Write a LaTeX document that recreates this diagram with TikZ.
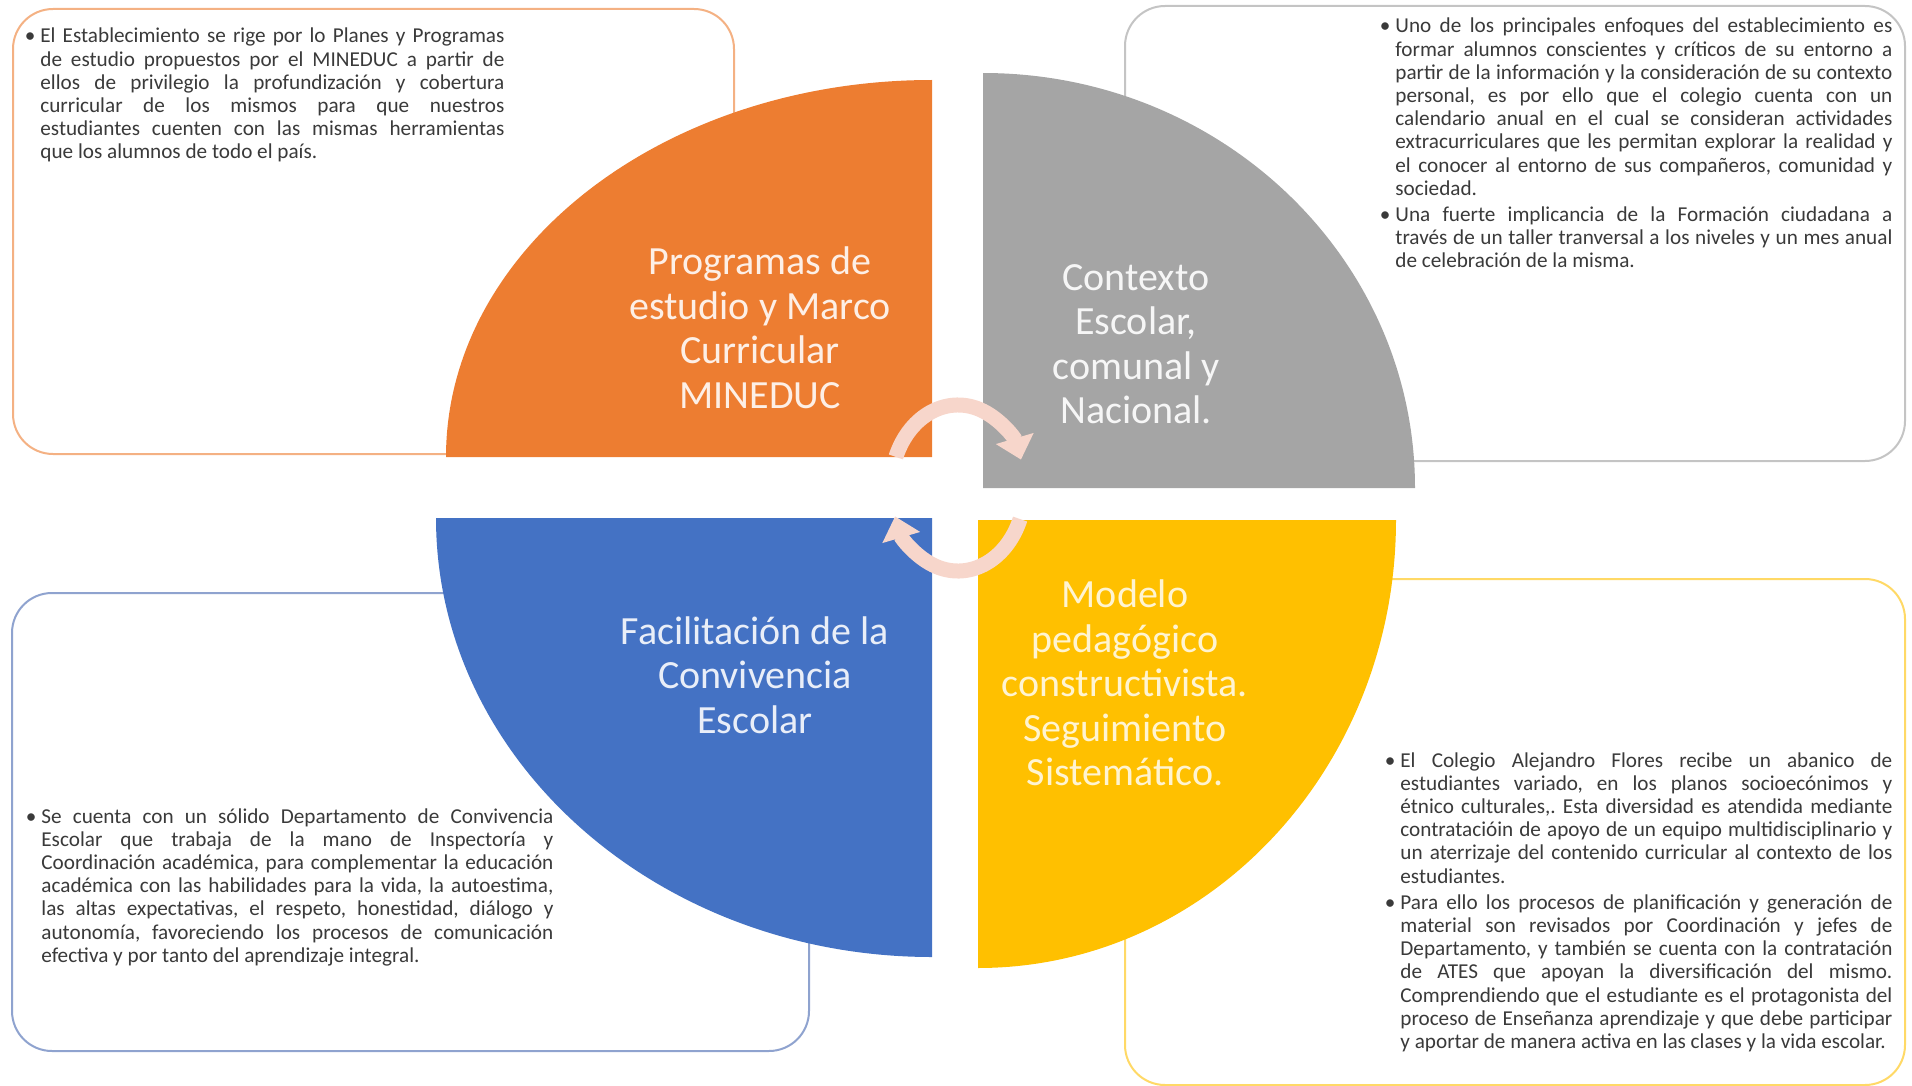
\documentclass[tikz,border=0pt]{standalone}
\usepackage{fontspec}
\setmainfont{Carlito}
\usetikzlibrary{positioning,arrows.meta}
\definecolor{progorange}{HTML}{ED7D31}
\definecolor{ctxgray}{HTML}{A5A5A5}
\definecolor{convblue}{HTML}{4472C4}
\definecolor{modelyellow}{HTML}{FFC000}
\definecolor{progline}{HTML}{F4B183}
\definecolor{ctxline}{HTML}{C4C4C4}
\definecolor{convline}{HTML}{8FA3CF}
\definecolor{modelline}{HTML}{FFD966}
\definecolor{bodygray}{HTML}{3A3A3A}
\definecolor{cyclepink}{HTML}{F7D6CB}
\newcommand{\bodyfont}{\fontsize{10.6}{11.6}\selectfont\frenchspacing\hyphenpenalty=10000\exhyphenpenalty=10000\tolerance=10000}
\newcommand{\labelfont}{\fontsize{20}{22.25}\selectfont}
\newcommand{\bulletitem}{\noindent\llap{\textbullet\hspace{2.5pt}}}
\tikzstyle{infobox} = [rectangle, rounded corners=20pt, line width=1pt, fill=white, anchor=north west]
\tikzstyle{infotext} = [anchor=base west, inner sep=0pt, align=justify, text=bodygray, font=\bodyfont]
\tikzstyle{quarterlabel} = [align=center, font=\labelfont, inner sep=0pt]
\tikzstyle{cyclearrow} = [line width=7.5pt, draw=cyclepink, -{Triangle[width=19pt,length=11pt]}]

\begin{document}
\begin{tikzpicture}[x=0.5pt,y=0.5pt]
	\useasboundingbox (0,0) rectangle (1912,-1086);
	%-----------------------------------------------
	\node (progbox) [infobox, draw=progline, minimum width=360.5pt, minimum height=222.5pt] at (12,-8) {};
	\node (ctxbox) [infobox, draw=ctxline, minimum width=390pt, minimum height=227.5pt] at (1124,-5) {};
	\node (convbox) [infobox, draw=convline, minimum width=398.5pt, minimum height=229pt] at (11,-592) {};
	\node (modelbox) [infobox, draw=modelline, minimum width=390pt, minimum height=253pt] at (1124,-578) {};
	%-----------------------------------------------
	\fill [progorange] (932,-457) -- (446,-457) arc[start angle=180, end angle=90, x radius=243pt, y radius=188.5pt] -- cycle;
	\fill [ctxgray] (983,-488) -- (983,-73) arc[start angle=90, end angle=0, x radius=216pt, y radius=207.5pt] -- cycle;
	\fill [convblue] (932,-518) -- (436,-518) arc[start angle=180, end angle=270, x radius=248pt, y radius=219.5pt] -- cycle;
	\fill [modelyellow] (978,-520) -- (1396,-520) arc[start angle=0, end angle=-90, x radius=209pt, y radius=224pt] -- cycle;
	%-----------------------------------------------
	\coordinate (hub) at (958,-488);
	\draw [cyclearrow] ([shift={(158:33.5pt and 41.5pt)}]hub) arc[start angle=158, end angle=20, x radius=33.5pt, y radius=41.5pt];
	\draw [cyclearrow] ([shift={(-22:33.5pt and 41.5pt)}]hub) arc[start angle=-22, end angle=-160, x radius=33.5pt, y radius=41.5pt];
	%-----------------------------------------------
	\node (proglabel) [quarterlabel, text=white!88!progorange] at (760,-328) {Programas de\\estudio y Marco\\Curricular\\MINEDUC};
	\node (ctxlabel) [quarterlabel, text=white!90!ctxgray] at (1136,-344) {Contexto\\Escolar,\\comunal y\\Nacional.};
	\node (convlabel) [quarterlabel, text=white!88!convblue] at (755,-675) {Facilitación de la\\Convivencia\\Escolar};
	\node (modellabel) [quarterlabel, text=white!82!modelyellow] at (1125,-683) {Modelo\\pedagógico\\constructivista.\\Seguimiento\\Sistemático.};
	%-----------------------------------------------
	\node (progtext) [infotext, text width=232pt] at (40,-43) {\bulletitem El Establecimiento se rige por lo Planes y Programas\linebreak
		de estudio propuestos por el MINEDUC a partir de\linebreak
		ellos de privilegio la profundización y cobertura\linebreak
		curricular de los mismos para que nuestros\linebreak
		estudiantes cuenten con las mismas herramientas\linebreak
		que los alumnos de todo el país.};
	\node (ctxtext) [infotext, text width=248.5pt] at (1395,-33) {\bulletitem Uno de los principales enfoques del establecimiento es\linebreak
		formar alumnos conscientes y críticos de su entorno a\linebreak
		partir de la información y la consideración de su contexto\linebreak
		personal, es por ello que el colegio cuenta con un\linebreak
		calendario anual en el cual se consideran actividades\linebreak
		extracurriculares que les permitan explorar la realidad y\linebreak
		el conocer al entorno de sus compañeros, comunidad y\linebreak
		sociedad.\par\vspace{1.5pt}
		\bulletitem Una fuerte implicancia de la Formación ciudadana a\linebreak
		través de un taller tranversal a los niveles y un mes anual\linebreak
		de celebración de la misma.};
	\node (convtext) [infotext, text width=256pt] at (41,-823) {\bulletitem Se cuenta con un sólido Departamento de Convivencia\linebreak
		Escolar que trabaja de la mano de Inspectoría y\linebreak
		Coordinación académica, para complementar la educación\linebreak
		académica con las habilidades para la vida, la autoestima,\linebreak
		las altas expectativas, el respeto, honestidad, diálogo y\linebreak
		autonomía, favoreciendo los procesos de comunicación\linebreak
		efectiva y por tanto del aprendizaje integral.};
	\node (modeltext) [infotext, text width=246pt] at (1400,-767) {\bulletitem El Colegio Alejandro Flores recibe un abanico de\linebreak
		estudiantes variado, en los planos socioecónimos y\linebreak
		étnico culturales,. Esta diversidad es atendida mediante\linebreak
		contratacióin de apoyo de un equipo multidisciplinario y\linebreak
		un aterrizaje del contenido curricular al contexto de los\linebreak
		estudiantes.\par\vspace{1.5pt}
		\bulletitem Para ello los procesos de planificación y generación de\linebreak
		material son revisados por Coordinación y jefes de\linebreak
		Departamento, y también se cuenta con la contratación\linebreak
		de ATES que apoyan la diversificación del mismo.\linebreak
		Comprendiendo que el estudiante es el protagonista del\linebreak
		proceso de Enseñanza aprendizaje y que debe participar\linebreak
		y aportar de manera activa en las clases y la vida escolar.};
\end{tikzpicture}
\end{document}
